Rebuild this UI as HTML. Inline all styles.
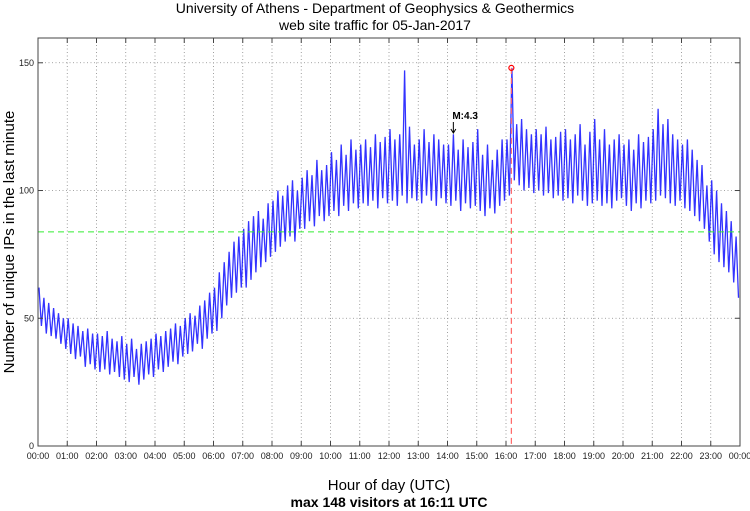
<!DOCTYPE html>
<html><head><meta charset="utf-8"><style>
html,body{margin:0;padding:0;background:#fff;}
svg{display:block;font-family:"Liberation Sans",sans-serif;}
</style></head><body>
<svg id="chart" width="750" height="511" viewBox="0 0 750 511" xmlns="http://www.w3.org/2000/svg">
<text x="375" y="13" text-anchor="middle" font-size="14">University of Athens - Department of Geophysics &amp; Geothermics</text>
<text x="375" y="30" text-anchor="middle" font-size="14">web site traffic for 05-Jan-2017</text>
<text transform="translate(14,242) rotate(-90)" text-anchor="middle" font-size="15">Number of unique IPs in the last minute</text>
<text x="389" y="490" text-anchor="middle" font-size="15">Hour of day (UTC)</text>
<text x="389" y="507" text-anchor="middle" font-size="14" font-weight="bold">max 148 visitors at 16:11 UTC</text>
<g id="grid"></g><g id="series"></g><g id="overlay"></g><g id="axes"></g>
</svg>
<script>
const hourLabels=["00:00","01:00","02:00","03:00","04:00","05:00","06:00","07:00","08:00","09:00","10:00","11:00","12:00","13:00","14:00","15:00","16:00","17:00","18:00","19:00","20:00","21:00","22:00","23:00","00:00"];
const yTicks=[0,50,100,150];
const bucketLow=[47,44,43,42,40,38,36,34,35,31,32,30,29,30,28,29,27,26,25,27,24,26,28,27,30,29,31,33,32,35,36,37,40,38,42,44,45,50,55,58,60,62,62,65,68,70,72,74,76,78,80,82,80,85,85,88,86,90,88,90,92,90,94,92,95,93,95,94,96,93,97,95,96,94,98,95,97,96,95,98,96,94,97,95,94,96,92,95,93,94,92,90,93,91,94,96,98,104,102,100,101,99,100,98,99,97,98,96,97,95,98,96,94,95,96,94,95,93,96,97,94,92,95,93,96,95,96,98,97,95,94,96,93,92,90,88,85,80,75,72,70,68,64,58];
const bucketHigh=[62,58,56,54,52,50,50,48,47,45,46,44,44,43,45,42,41,43,40,42,38,40,41,42,44,43,45,46,48,47,50,52,51,55,57,60,62,68,72,76,80,82,85,88,90,92,89,95,96,100,98,102,104,100,105,108,106,112,108,110,115,112,118,114,120,116,118,120,117,122,119,121,124,120,122,147,125,118,120,124,119,122,120,118,118,122,116,120,117,119,124,114,118,112,116,120,120,148,126,128,124,122,124,122,125,120,121,123,124,120,122,126,118,123,128,120,124,118,120,122,118,120,116,122,119,121,124,132,126,128,122,120,118,120,116,112,110,102,104,100,95,92,88,82];
const meanValue=83.8;
const peakMinute=971, peakValue=148;
const annotMinute=852, annotText="M:4.3";
const X0=38,X1=740,Y0=446,Y1=38,YMAX=159.7;
const sx=m=>X0+(X1-X0)*m/1440;
const sy=v=>Y0-(Y0-Y1)*v/YMAX;
const NS="http://www.w3.org/2000/svg";
function mk(tag,attrs,parent){const e=document.createElementNS(NS,tag);for(const k in attrs)e.setAttribute(k,attrs[k]);parent.appendChild(e);return e;}
const grid=document.getElementById('grid'),axes=document.getElementById('axes'),series=document.getElementById('series'),overlay=document.getElementById('overlay');
hourLabels.forEach((lab,i)=>{
  const x=sx(i*60);
  if(i>0&&i<24){const g=mk('line',{x1:x,x2:x,y1:Y1,y2:Y0,stroke:'#888','stroke-width':0.8,'stroke-dasharray':'1,2.5'},grid);
  
  }
  const t1=mk('line',{x1:x,x2:x,y1:Y0,y2:Y0-5,stroke:'#444','stroke-width':1},axes);
  
  
  const t2=mk('line',{x1:x,x2:x,y1:Y1,y2:Y1+5,stroke:'#444','stroke-width':1},axes);
  
  
  const tx=mk('text',{x:x,y:459,'text-anchor':'middle','font-size':9,fill:'#222'},axes);
  tx.textContent=lab;
  
  
});
yTicks.forEach(v=>{
  const y=sy(v);
  if(v>0){const g=mk('line',{x1:X0,x2:X1,y1:y,y2:y,stroke:'#888','stroke-width':0.8,'stroke-dasharray':'1,2.5'},grid);
  
  }
  const t1=mk('line',{x1:X0,x2:X0+5,y1:y,y2:y,stroke:'#444'},axes);
  
  
  const t2=mk('line',{x1:X1-5,x2:X1,y1:y,y2:y,stroke:'#444'},axes);
  
  
  const tx=mk('text',{x:X0-4,y:y+3,'text-anchor':'end','font-size':9,fill:'#222'},axes);
  tx.textContent=v;
  
  
});
const frame=mk('rect',{x:X0,y:Y1,width:X1-X0,height:Y0-Y1,fill:'none',stroke:'#444','stroke-width':1},axes);


let pts=[];
bucketLow.forEach((lo,i)=>{
  pts.push(sx(i*10+2).toFixed(1)+','+sy(bucketHigh[i]).toFixed(1));
  pts.push(sx(i*10+7).toFixed(1)+','+sy(lo).toFixed(1));
});
const pl=mk('polyline',{points:pts.join(' '),fill:'none',stroke:'#0000ff','stroke-width':1.3,'stroke-opacity':0.8},series);


const ml=mk('line',{x1:X0,x2:X1,y1:sy(meanValue),y2:sy(meanValue),stroke:'#33ee33','stroke-width':1,'stroke-dasharray':'6,4'},overlay);


const pk=mk('line',{x1:sx(peakMinute),x2:sx(peakMinute),y1:sy(peakValue),y2:Y0,stroke:'#ff6666','stroke-width':1.2,'stroke-dasharray':'6,4'},overlay);


const pc=mk('circle',{cx:sx(peakMinute),cy:sy(peakValue),r:2.5,fill:'none',stroke:'#ff0000','stroke-width':1.2},overlay);


const ax=sx(annotMinute);
const at=mk('text',{x:ax-1,y:119,'font-size':10,'font-weight':'bold'},overlay);
at.textContent=annotText;


const ar=mk('path',{d:`M${ax},122 L${ax},133 M${ax-2.5},129 L${ax},133 L${ax+2.5},129`,fill:'none',stroke:'#000','stroke-width':1},overlay);


</script>
</body></html>
